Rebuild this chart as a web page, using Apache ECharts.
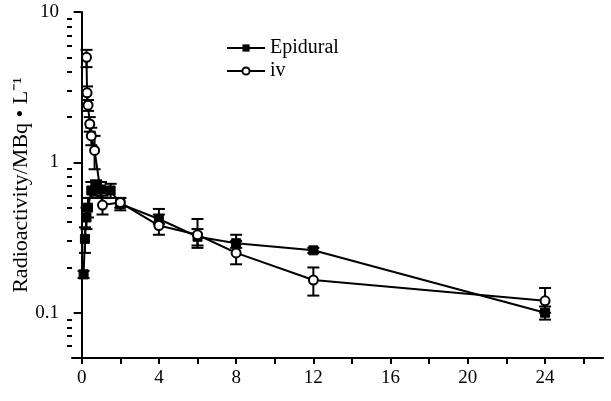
<!DOCTYPE html>
<html><head><meta charset="utf-8">
<script src="https://cdn.jsdelivr.net/npm/echarts@6/dist/echarts.min.js"></script>
<style>html,body{margin:0;padding:0;background:#fff}#c{width:611px;height:401px}</style>
</head><body><div id="c"></div>
<script>
// Time (h)
const epiTime = [0.1, 0.17, 0.25, 0.33, 0.5, 0.75, 1, 1.5, 2, 4, 6, 8, 12, 24];
const epiVal  = [0.18, 0.31, 0.43, 0.5, 0.65, 0.68, 0.66, 0.65, 0.53, 0.42, 0.32, 0.29, 0.26, 0.1];
const epiLow  = [0.17, 0.25, 0.36, 0.43, 0.58, 0.6, 0.58, 0.58, 0.48, 0.39, 0.28, 0.27, 0.25, 0.09];
const epiHigh = [0.19, 0.37, 0.5, 0.58, 0.74, 0.76, 0.74, 0.72, 0.58, 0.49, 0.36, 0.33, 0.27, 0.11];

const ivTime = [0.25, 0.28, 0.33, 0.42, 0.5, 0.67, 1.08, 2, 4, 6, 8, 12, 24];
const ivVal  = [5.0, 2.9, 2.4, 1.8, 1.5, 1.2, 0.52, 0.54, 0.38, 0.33, 0.25, 0.165, 0.12];
const ivLow  = [4.3, 2.6, 2.2, 1.6, 1.3, 0.9, 0.45, 0.5, 0.33, 0.27, 0.21, 0.13, 0.1];
const ivHigh = [5.6, 3.2, 2.6, 2.0, 1.7, 1.5, 0.6, 0.58, 0.45, 0.42, 0.3, 0.2, 0.146];

const xLabels = [0, 4, 8, 12, 16, 20, 24];
const xTicks = [0, 2, 4, 6, 8, 10, 12, 14, 16, 18, 20, 22, 24, 26];
const yLabels = [0.1, 1, 10];
const yMinor = [0.06, 0.07, 0.08, 0.09, 0.2, 0.3, 0.4, 0.5, 0.6, 0.7, 0.8, 0.9, 2, 3, 4, 5, 6, 7, 8, 9];

const FONT = '"Liberation Serif", "Times New Roman", serif';

function errData(t, lo, hi) { return t.map((x, i) => [x, lo[i], hi[i]]); }
function errRender(params, api) {
  const x = api.value(0);
  const lo = api.coord([x, api.value(1)]);
  const hi = api.coord([x, api.value(2)]);
  const w = 6;
  const st = { stroke: '#000', lineWidth: 2 };
  return { type: 'group', children: [
    { type: 'line', shape: { x1: lo[0], y1: lo[1], x2: hi[0], y2: hi[1] }, style: st },
    { type: 'line', shape: { x1: lo[0] - w, y1: lo[1], x2: lo[0] + w, y2: lo[1] }, style: st },
    { type: 'line', shape: { x1: hi[0] - w, y1: hi[1], x2: hi[0] + w, y2: hi[1] }, style: st }
  ]};
}

const chart = echarts.init(document.getElementById('c'));
chart.setOption({
  animation: false,
  backgroundColor: '#fff',
  grid: { left: 72, right: 8, top: 12, bottom: 43, containLabel: false, outerBoundsMode: 'none' },
  legend: {
    data: ['Epidural', 'iv'], orient: 'vertical', left: 221, top: 33,
    itemWidth: 38, itemHeight: 9, itemGap: 3,
    textStyle: { fontFamily: FONT, fontSize: 20, color: '#000' }
  },
  xAxis: {
    type: 'value', min: -0.5, max: 27,
    axisLine: { lineStyle: { color: '#000', width: 2 } },
    axisTick: { customValues: xTicks, length: 6, lineStyle: { color: '#000', width: 2 } },
    axisLabel: { customValues: xLabels, fontFamily: FONT, fontSize: 19, color: '#000', margin: 11 },
    splitLine: { show: false }
  },
  yAxis: [{
    type: 'log', min: 0.05, max: 10, position: 'left',
    name: 'Radioactivity/MBq • L⁻¹', nameLocation: 'middle', nameGap: 40, nameMoveOverlap: false,
    nameTextStyle: { fontFamily: FONT, fontSize: 22, color: '#000' },
    axisLine: { show: true, lineStyle: { color: '#000', width: 2 } },
    axisTick: { customValues: yLabels, length: 8, lineStyle: { color: '#000', width: 2 } },
    axisLabel: { customValues: yLabels, fontFamily: FONT, fontSize: 19, color: '#000', margin: 13 },
    splitLine: { show: false }
  }, {
    type: 'log', min: 0.05, max: 10, position: 'left',
    axisLine: { show: false },
    axisTick: { customValues: yMinor, length: 5, lineStyle: { color: '#000', width: 2 } },
    axisLabel: { show: false },
    splitLine: { show: false }
  }],
  series: [
    { type: 'custom', name: 'epiErr', renderItem: errRender, data: errData(epiTime, epiLow, epiHigh), z: 2, silent: true },
    { type: 'custom', name: 'ivErr', renderItem: errRender, data: errData(ivTime, ivLow, ivHigh), z: 2, silent: true },
    { type: 'line', name: 'Epidural', data: epiTime.map((t, i) => [t, epiVal[i]]),
      symbol: 'rect', symbolSize: 9, showAllSymbol: true,
      lineStyle: { color: '#000', width: 2 }, itemStyle: { color: '#000', borderColor: '#000' }, z: 3 },
    { type: 'line', name: 'iv', data: ivTime.map((t, i) => [t, ivVal[i]]),
      symbol: 'circle', symbolSize: 9, showAllSymbol: true,
      lineStyle: { color: '#000', width: 2 }, itemStyle: { color: '#fff', borderColor: '#000', borderWidth: 2 }, z: 4 }
  ]
});
</script></body></html>
